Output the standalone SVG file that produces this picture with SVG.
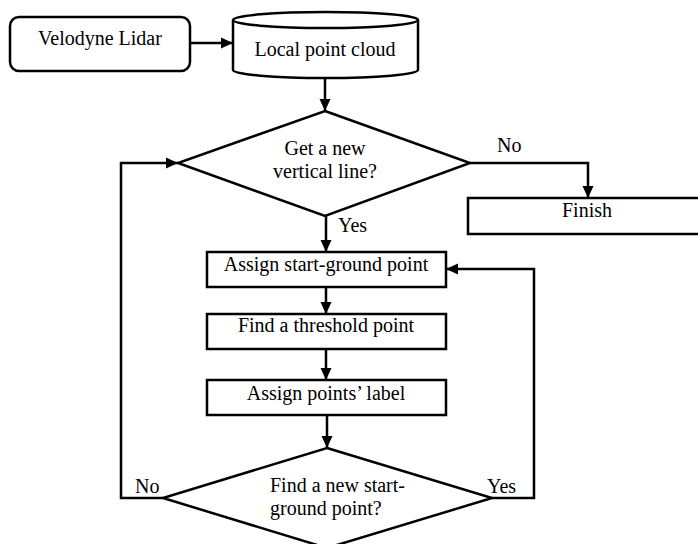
<svg xmlns="http://www.w3.org/2000/svg" width="698" height="544" viewBox="0 0 698 544">
<style>
.s{fill:#fff;stroke:#000;stroke-width:2.5}
.c{fill:none;stroke:#000;stroke-width:2.5}
text{font-family:"Liberation Serif","Times New Roman",serif;font-size:20px;fill:#000}
.m{text-anchor:middle}
</style>
<defs>
<marker id="a" markerUnits="userSpaceOnUse" markerWidth="12" markerHeight="12" refX="12" refY="6" orient="auto">
<path d="M0,0.5 L12,6 L0,11.5 z" fill="#000"/>
</marker>
</defs>
<rect width="698" height="544" fill="#fff"/>
<g id="connectors">
<line class="c" x1="190" y1="43" x2="233" y2="43" marker-end="url(#a)"/>
<line class="c" x1="325" y1="78" x2="325" y2="111" marker-end="url(#a)"/>
<polyline class="c" points="470,163 588,163 588,198" marker-end="url(#a)"/>
<line class="c" x1="326" y1="216" x2="326" y2="252" marker-end="url(#a)"/>
<line class="c" x1="326" y1="287" x2="326" y2="314" marker-end="url(#a)"/>
<line class="c" x1="326" y1="349" x2="326" y2="380" marker-end="url(#a)"/>
<line class="c" x1="327" y1="415" x2="327" y2="448" marker-end="url(#a)"/>
<polyline class="c" points="163,498 121,498 121,163 178,163" marker-end="url(#a)"/>
<polyline class="c" points="492,498 534,498 534,269 446,269" marker-end="url(#a)"/>
<text x="497" y="152">No</text>
<text x="338" y="232">Yes</text>
<text x="135" y="493">No</text>
<text x="487" y="493">Yes</text>
</g>
<g id="velodyne">
<rect class="s" x="10" y="17" width="180" height="54" rx="9"/>
<text class="m" x="100" y="45">Velodyne Lidar</text>
</g>
<g id="cloud">
<path class="s" d="M233,20 L233,70 A92.5,8 0 0 0 418,70 L418,20"/>
<ellipse class="s" cx="325.5" cy="20" rx="92.5" ry="8"/>
<text class="m" x="325" y="56">Local point cloud</text>
</g>
<g id="decision1">
<polygon class="s" points="325,111 470,163 325,216 178,163"/>
<text class="m" x="325" y="155">Get a new</text>
<text class="m" x="325" y="178">vertical line?</text>
</g>
<g id="finish">
<path class="c" d="M710,198 L468,198 L468,234 L710,234"/>
<text class="m" x="587" y="217">Finish</text>
</g>
<g id="assign-start">
<rect class="s" x="207" y="252" width="239" height="35"/>
<text class="m" x="326" y="271">Assign start-ground point</text>
</g>
<g id="threshold">
<rect class="s" x="207" y="314" width="239" height="35"/>
<text class="m" x="326" y="332">Find a threshold point</text>
</g>
<g id="assign-label">
<rect class="s" x="207" y="380" width="239" height="35"/>
<text class="m" x="326" y="400">Assign points’ label</text>
</g>
<g id="decision2">
<polygon class="s" points="327,448 492,498 327,548 163,498"/>
<text x="270" y="492">Find a new start-</text>
<text x="270" y="515">ground point?</text>
</g>
</svg>
